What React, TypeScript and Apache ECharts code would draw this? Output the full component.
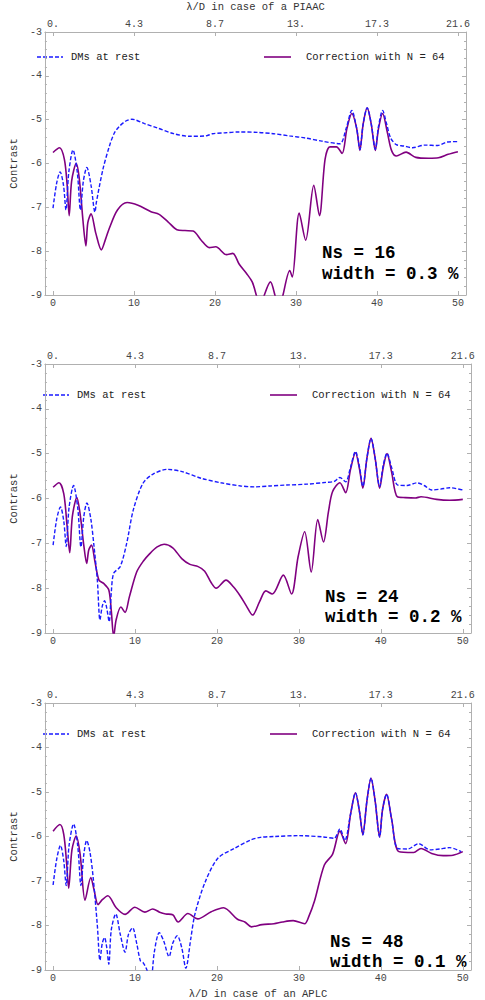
import React, { useEffect, useRef } from "react";
import * as echarts from "echarts";

// ---------- data ----------
const bottomTicks = [0, 10, 20, 30, 40, 50];
const topTickLabels = ["0.", "4.3", "8.7", "13.", "17.3", "21.6"];
const seriesNames = ["DMs at rest", "Correction with N = 64"];
const annotations = [
  ["Ns = 16", "width = 0.3 %"],
  ["Ns = 24", "width = 0.2 %"],
  ["Ns = 48", "width = 0.1 %"],
];
const topTitle = "λ/D in case of a PIAAC";
const bottomTitle = "λ/D in case of an APLC";
const yName = "Contrast";

const dmsRest16 = [
  [0, -7.02], [0.45, -6.45], [0.88, -6.19], [1.3, -6.5], [1.6, -7.06], [1.95, -6.2], [2.47, -5.69],
  [3.0, -6.2], [3.39, -7.06], [3.75, -6.4], [4.18, -6.09], [4.7, -6.5], [5.18, -7.11], [5.37, -6.87],
  [6.17, -6.13], [6.97, -5.6], [7.56, -5.31], [8.16, -5.16], [9.0, -5.03], [9.75, -4.99], [11.3, -5.09],
  [12.9, -5.19], [14.9, -5.32], [16.9, -5.38], [18.9, -5.37], [19.7, -5.32], [21.3, -5.3], [22.9, -5.28],
  [25.3, -5.29], [27.2, -5.32], [29.2, -5.37], [31.2, -5.42], [33.2, -5.49], [35.4, -5.55],
  [36.2, -5.2], [36.9, -4.79], [37.5, -5.2], [37.9, -5.68], [38.3, -5.1], [38.8, -4.73], [39.3, -5.1],
  [39.8, -5.68], [40.2, -5.15], [40.7, -4.79], [41.2, -5.1], [41.7, -5.42], [42.4, -5.57], [43.3, -5.6],
  [44.4, -5.64], [45.9, -5.58], [47.5, -5.59], [48.7, -5.51], [50, -5.5],
];
const correction16 = [
  [0, -5.75], [0.8, -5.64], [1.4, -5.9], [1.75, -6.5], [2.0, -7.19], [2.3, -6.4], [2.87, -6.0],
  [3.25, -6.35], [3.7, -7.3], [4.06, -7.88], [4.3, -7.35], [4.7, -7.15], [5.3, -7.6], [5.97, -7.97],
  [6.5, -7.72], [6.97, -7.47], [7.96, -7.06], [9.15, -6.89], [10.5, -6.95], [12.1, -7.1], [13.1, -7.16],
  [14.2, -7.33], [15.3, -7.51], [16.3, -7.53], [17.3, -7.54], [18.3, -7.75], [19.3, -7.92], [20.1, -7.9],
  [21.4, -8.08], [22.2, -8.05], [23.0, -8.3], [23.9, -8.51], [24.6, -8.7], [25.1, -9.0], [25.6, -9.35],
  [26.1, -9.0], [26.85, -8.7], [27.4, -9.0], [27.9, -9.4], [28.4, -9.0], [29.24, -8.44], [29.55, -8.59],
  [30.4, -7.13], [31.2, -7.75], [32.2, -6.5], [32.9, -7.19], [33.6, -5.9], [34.2, -5.62], [35.0, -5.62],
  [35.7, -5.77], [36.3, -5.2], [36.9, -4.86], [37.5, -5.2], [37.9, -5.7], [38.3, -5.1], [38.8, -4.73],
  [39.3, -5.1], [39.8, -5.7], [40.2, -5.2], [40.7, -4.86], [41.3, -5.3], [41.8, -5.7], [42.4, -5.83],
  [43.6, -5.74], [44.8, -5.86], [46.4, -5.88], [47.6, -5.87], [48.8, -5.79], [50, -5.73],
];

const dmsRest24 = [
  [0, -7.04], [0.45, -6.45], [0.9, -6.19], [1.3, -6.5], [1.6, -7.07], [1.95, -6.2], [2.5, -5.71],
  [3.0, -6.2], [3.4, -7.08], [3.75, -6.4], [4.13, -6.1], [4.6, -6.45], [5.0, -7.08], [5.4, -7.82],
  [5.72, -8.71], [6.0, -8.4], [6.28, -8.28], [6.55, -8.45], [6.84, -8.75], [7.1, -8.1], [7.39, -7.67],
  [8.19, -7.52], [8.98, -7.0], [9.78, -6.26], [10.97, -5.66], [12.16, -5.46], [13.95, -5.35],
  [15.74, -5.4], [18.1, -5.55], [20.5, -5.65], [22.9, -5.72], [24.6, -5.74], [26.5, -5.72], [28.5, -5.7],
  [31, -5.68], [33.3, -5.64], [34.3, -5.62], [35.0, -5.53], [35.7, -5.63], [36.3, -5.3], [36.9, -4.95],
  [37.4, -5.3], [37.8, -5.73], [38.3, -5.1], [38.8, -4.66], [39.3, -5.1], [39.85, -5.73], [40.3, -5.25],
  [40.75, -4.99], [41.3, -5.3], [42.06, -5.7], [43.2, -5.71], [44.4, -5.65], [45.3, -5.71], [46.2, -5.81],
  [47.3, -5.79], [48.4, -5.76], [50, -5.81],
];
const correction24 = [
  [0, -5.75], [0.72, -5.65], [1.3, -5.89], [1.7, -6.6], [2.03, -7.21], [2.35, -6.4], [2.9, -5.98],
  [3.3, -6.35], [3.75, -7.05], [4.1, -7.45], [4.35, -7.15], [4.69, -7.04], [5.1, -7.4], [5.6, -7.82],
  [6.2, -7.9], [6.8, -8.04], [7.1, -8.5], [7.39, -9.08], [7.7, -8.7], [8.27, -8.42], [8.78, -8.54],
  [9.3, -8.2], [10.2, -7.64], [11.0, -7.4], [11.8, -7.23], [12.7, -7.08], [13.55, -7.02], [14.6, -7.1],
  [15.7, -7.34], [16.7, -7.47], [17.7, -7.52], [18.5, -7.62], [19.3, -7.88], [19.9, -8.0], [21.1, -7.82],
  [22.0, -7.97], [22.9, -8.19], [23.6, -8.4], [24.35, -8.6], [25.2, -8.3], [25.96, -8.06], [26.75, -8.13],
  [28.1, -7.71], [29.1, -8.13], [29.9, -7.3], [30.7, -6.74], [31.5, -7.64], [32.3, -6.47], [33.0, -6.97],
  [33.6, -6.3], [34.1, -5.85], [35.0, -5.65], [35.7, -5.87], [36.3, -5.35], [36.9, -4.98], [37.4, -5.35],
  [37.8, -5.77], [38.3, -5.1], [38.8, -4.66], [39.3, -5.1], [39.85, -5.77], [40.3, -5.3], [40.75, -5.0],
  [41.3, -5.4], [42.0, -5.96], [43.0, -5.98], [44.2, -5.99], [44.9, -5.96], [46.8, -6.02], [48.4, -6.04],
  [50, -6.02],
];

const dmsRest48 = [
  [0, -7.09], [0.45, -6.5], [0.9, -6.2], [1.3, -6.55], [1.6, -7.1], [1.95, -6.2], [2.5, -5.72],
  [3.0, -6.2], [3.4, -7.1], [3.75, -6.4], [4.1, -6.09], [4.5, -6.35], [4.9, -6.94], [5.4, -8.0],
  [5.72, -8.78], [6.0, -8.4], [6.28, -8.27], [6.55, -8.5], [6.8, -8.87], [7.1, -8.1], [7.65, -7.74],
  [8.2, -8.2], [8.78, -8.6], [9.2, -8.2], [9.7, -8.05], [10.2, -8.4], [10.65, -8.79], [11.0, -8.84],
  [11.45, -9.0], [11.9, -9.3], [12.35, -8.6], [12.96, -8.16], [13.5, -8.35], [14.15, -8.7], [14.6, -8.4],
  [15.15, -8.23], [15.7, -8.5], [16.2, -8.96], [16.8, -8.3], [17.3, -7.75], [18.5, -7.05], [20.1, -6.49],
  [22.1, -6.27], [24.1, -6.08], [25.3, -6.02], [27, -6.0], [30, -5.98], [33, -6.01], [34.3, -6.04],
  [35.0, -5.83], [35.6, -6.09], [36.3, -5.5], [36.9, -5.02], [37.4, -5.45], [37.8, -5.96], [38.3, -5.2],
  [38.8, -4.69], [39.3, -5.2], [39.85, -6.01], [40.2, -5.4], [40.7, -5.05], [41.3, -5.6], [42.06, -6.27],
  [43.3, -6.28], [44.6, -6.16], [46.0, -6.3], [47.2, -6.28], [48.4, -6.25], [49.8, -6.34],
];
const correction48 = [
  [0, -5.88], [0.83, -5.73], [1.3, -5.95], [1.65, -6.6], [1.9, -7.16], [2.3, -6.3], [2.82, -5.99],
  [3.3, -6.4], [3.9, -7.43], [4.6, -6.92], [5.0, -7.2], [5.49, -7.53], [6.0, -7.42], [6.68, -7.33],
  [7.7, -7.6], [8.78, -7.75], [9.98, -7.59], [11.2, -7.7], [12.16, -7.63], [13.0, -7.7], [13.75, -7.74],
  [14.6, -7.76], [15.26, -7.92], [16.45, -7.73], [17.65, -7.85], [19.3, -7.69], [20.8, -7.6], [22.5, -7.86],
  [23.4, -7.92], [24.2, -8.03], [25.5, -7.98], [26.95, -7.96], [28.0, -7.92], [29.3, -7.89], [30.7, -7.96],
  [31.2, -7.8], [31.9, -7.45], [33.1, -6.64], [34.1, -6.4], [35.0, -5.88], [35.7, -6.16], [36.3, -5.5],
  [36.9, -5.02], [37.4, -5.45], [37.8, -5.96], [38.3, -5.2], [38.8, -4.69], [39.3, -5.2], [39.85, -6.01],
  [40.2, -5.4], [40.7, -5.05], [41.3, -5.6], [42.2, -6.34], [44.0, -6.36], [44.9, -6.27], [46.2, -6.38],
  [47.6, -6.43], [48.8, -6.42], [50, -6.34],
];

const panelData = [
  [dmsRest16, correction16],
  [dmsRest24, correction24],
  [dmsRest48, correction48],
];

// ---------- layout ----------
const grids = [
  { left: 30, top: 27, width: 436, height: 268 },
  { left: 36, top: 364, width: 435, height: 269 },
  { left: 36, top: 703, width: 435, height: 270 },
];
const annotPos = [
  { x: 322, y1: 253, y2: 274 },
  { x: 325, y1: 597, y2: 617 },
  { x: 330, y1: 942, y2: 962 },
];

const MONO = "'Liberation Mono', 'DejaVu Sans Mono', monospace";
const FRAME = "#b0b0b0";
const LABEL = "#444";
const BLUE = "#1a1aff";
const PURPLE = "#800080";

export default function App() {
  const ref = useRef<HTMLDivElement>(null);
  useEffect(() => {
    if (!ref.current) return;
    const chart = echarts.init(ref.current, undefined, { renderer: "svg" });

    const xAxes: any[] = [];
    const yAxes: any[] = [];
    const series: any[] = [];
    const graphic: any[] = [];

    grids.forEach((g, i) => {
      const common = {
        gridIndex: i,
        type: "value",
        min: -1,
        max: 51,
        splitLine: { show: false },
        axisLine: { show: true, onZero: false, lineStyle: { color: FRAME, width: 1 } },
        axisTick: { show: true, inside: true, length: 4, customValues: bottomTicks, lineStyle: { color: FRAME } },
      };
      xAxes.push({
        ...common,
        position: "bottom",
        axisLabel: {
          customValues: bottomTicks,
          fontFamily: MONO,
          fontSize: 10,
          color: LABEL,
          margin: 3,
        },
        ...(i === 2
          ? {
              name: bottomTitle,
              nameLocation: "middle",
              nameGap: 18,
              nameTextStyle: { fontFamily: MONO, fontSize: 10.5, color: "#333" },
            }
          : {}),
      });
      xAxes.push({
        ...common,
        position: "top",
        axisLabel: {
          customValues: bottomTicks,
          fontFamily: MONO,
          fontSize: 10,
          color: LABEL,
          margin: 3,
          formatter: (v: number) => topTickLabels[bottomTicks.indexOf(Math.round(v))] ?? "",
        },
        ...(i === 0
          ? {
              name: topTitle,
              nameLocation: "middle",
              nameGap: 20,
              nameTextStyle: { fontFamily: MONO, fontSize: 10.5, color: "#333" },
            }
          : {}),
      });
      const yCommon = {
        gridIndex: i,
        type: "value",
        min: -9,
        max: -3,
        interval: 1,
        splitLine: { show: false },
        axisLine: { show: true, onZero: false, lineStyle: { color: FRAME, width: 1 } },
        axisTick: { show: true, inside: true, length: 4, lineStyle: { color: FRAME } },
        minorTick: { show: true, splitNumber: 5, length: 2, lineStyle: { color: FRAME } },
      };
      yAxes.push({
        ...yCommon,
        position: "left",
        name: yName,
        nameLocation: "middle",
        nameGap: 24,
        nameRotate: 90,
        nameTextStyle: { fontFamily: MONO, fontSize: 10.5, color: "#333" },
        axisLabel: { fontFamily: MONO, fontSize: 10, color: LABEL, margin: 3 },
      });
      yAxes.push({
        ...yCommon,
        position: "right",
        axisLabel: { show: false },
      });

      const [rest, corr] = panelData[i];
      series.push({
        type: "line",
        name: seriesNames[0],
        xAxisIndex: 2 * i,
        yAxisIndex: 2 * i,
        data: rest,
        symbol: "none",
        smooth: 0.3,
        clip: true,
        lineStyle: { color: BLUE, width: 1.4, type: [4, 2] },
        z: 3,
      });
      series.push({
        type: "line",
        name: seriesNames[1],
        xAxisIndex: 2 * i,
        yAxisIndex: 2 * i,
        data: corr,
        symbol: "none",
        smooth: 0.3,
        clip: true,
        lineStyle: { color: PURPLE, width: 1.6 },
        z: 2,
      });

      // legend (drawn as graphic elements)
      const ly = g.top + (i === 0 ? 30 : 31);
      const lx = g.left + 7;
      graphic.push(
        { type: "line", shape: { x1: lx, y1: ly, x2: lx + 26, y2: ly }, style: { stroke: BLUE, lineWidth: 1.4, lineDash: [4, 2] } },
        { type: "text", x: lx + 34, y: ly, style: { text: seriesNames[0], font: `10.5px ${MONO}`, fill: "#222", textVerticalAlign: "middle", verticalAlign: "middle" } },
        { type: "line", shape: { x1: lx + 227, y1: ly, x2: lx + 254, y2: ly }, style: { stroke: PURPLE, lineWidth: 1.6 } },
        { type: "text", x: lx + 269, y: ly, style: { text: seriesNames[1], font: `10.5px ${MONO}`, fill: "#222", textVerticalAlign: "middle", verticalAlign: "middle" } }
      );
      const a = annotPos[i];
      graphic.push(
        { type: "text", x: a.x, y: a.y1, style: { text: annotations[i][0], font: `bold 17.5px ${MONO}`, fill: "#000", verticalAlign: "middle" } },
        { type: "text", x: a.x, y: a.y2, style: { text: annotations[i][1], font: `bold 17.5px ${MONO}`, fill: "#000", verticalAlign: "middle" } }
      );
    });

    chart.setOption({
      animation: false,
      backgroundColor: "#fff",
      grid: grids.map((g) => ({ ...g, containLabel: false })),
      xAxis: xAxes,
      yAxis: yAxes,
      series,
      graphic,
    });
    return () => chart.dispose();
  }, []);
  return <div ref={ref} style={{ position: "absolute", left: 0, top: 0, width: 485, height: 1000 }} />;
}
